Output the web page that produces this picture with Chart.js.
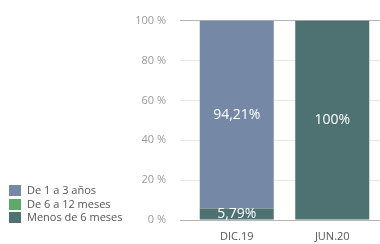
<!DOCTYPE html>
<html>
<head>
<meta charset="utf-8">
<script src="https://cdn.jsdelivr.net/npm/chart.js@4"></script>
<style>
  html, body { margin: 0; padding: 0; background: #fff; }
  #wrap { position: relative; width: 380px; height: 244px; }
  #legend { position: absolute; left: 9px; top: 183px; font-family: "Open Sans", sans-serif; font-size: 11px; color: #555; }
  #legend div { height: 13.5px; line-height: 13.5px; white-space: nowrap; }
  #legend span { display: inline-block; width: 12px; height: 11px; margin-right: 6px; vertical-align: -2px; }
</style>
</head>
<body>
<div id="wrap">
  <canvas id="chart" width="380" height="244"></canvas>
  <div id="legend"></div>
</div>
<script>
// Antigüedad por periodo
const categories = ['DIC.19', 'JUN.20'];
const menos6meses = [5.79, 100];
const de6a12meses = [0, 0];
const de1a3anos = [94.21, 0];
const yTicks = [0, 20, 40, 60, 80, 100];

const series = [
  { label: 'Menos de 6 meses', data: menos6meses, color: '#4e7272' },
  { label: 'De 6 a 12 meses', data: de6a12meses, color: '#5ea86c' },
  { label: 'De 1 a 3 años', data: de1a3anos, color: '#7589a7' },
];

// legend, top entry first
const legend = document.getElementById('legend');
series.slice().reverse().forEach(s => {
  const row = document.createElement('div');
  row.innerHTML = '<span style="background:' + s.color + '"></span>' + s.label;
  legend.appendChild(row);
});

function fmt(v) {
  return Number.isInteger(v) ? String(v) : v.toFixed(2).replace('.', ',');
}

const barLabels = {
  id: 'barLabels',
  afterDatasetsDraw(chart) {
    const c = chart.ctx;
    c.save();
    c.font = '14px "Open Sans", sans-serif';
    c.fillStyle = '#fff';
    c.textAlign = 'center';
    c.textBaseline = 'middle';
    chart.data.datasets.forEach((ds, i) => {
      chart.getDatasetMeta(i).data.forEach((bar, j) => {
        const v = ds.data[j];
        if (!v) return;
        const p = bar.getProps(['x', 'y', 'base'], true);
        c.fillText(fmt(v) + '%', p.x, (p.y + p.base) / 2);
      });
    });
    c.restore();
  }
};

const ctx = document.getElementById('chart').getContext('2d');
new Chart(ctx, {
  type: 'bar',
  data: {
    labels: categories,
    datasets: series.map(s => ({
      label: s.label,
      data: s.data,
      backgroundColor: s.color,
      barPercentage: 0.775,
      categoryPercentage: 1,
    })),
  },
  options: {
    responsive: false,
    animation: false,
    layout: { padding: { top: 20, right: 0, bottom: 0, left: 0 } },
    plugins: { legend: { display: false }, tooltip: { enabled: false } },
    scales: {
      x: {
        stacked: true,
        grid: { display: false, drawTicks: false },
        border: { display: false },
        afterFit: s => { s.height = 24; },
        ticks: { color: '#555', font: { family: 'Open Sans', size: 11 }, padding: 10 },
      },
      y: {
        stacked: true,
        min: 0,
        max: 100,
        afterBuildTicks: s => { s.ticks = yTicks.map(v => ({ value: v })); },
        afterFit: s => { s.width = 189; },
        border: { display: false },
        grid: {
          tickLength: 9,
          color: c => (c.tick.value === 0 || c.tick.value === 100) ? '#b4b4b4' : '#e6e6e6',
        },
        ticks: {
          color: '#999',
          padding: 14,
          font: { family: 'Open Sans', size: 11 },
          callback: v => v + ' %',
        },
      },
    },
  },
  plugins: [barLabels],
});
</script>
</body>
</html>
